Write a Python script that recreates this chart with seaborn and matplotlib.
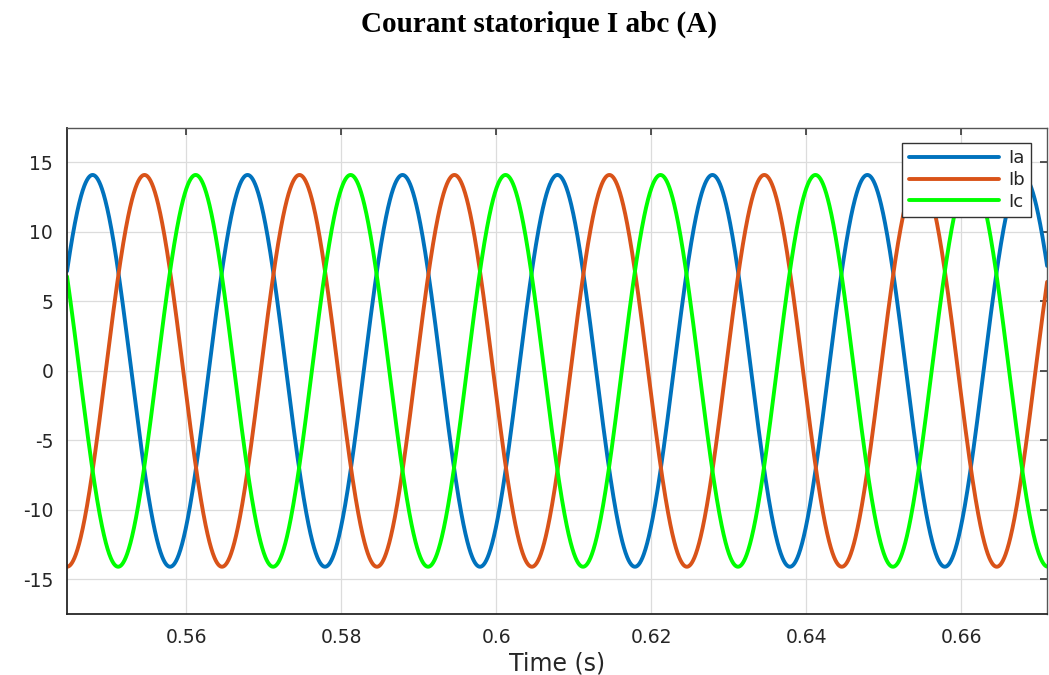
import numpy as np
import pandas as pd
import seaborn as sns
import matplotlib
matplotlib.use("Agg")
import matplotlib.pyplot as plt
from matplotlib.ticker import FormatStrFormatter, MultipleLocator

# valeurs
phases = ["Ia", "Ib", "Ic"]
peak_time = [0.5479, 0.5546, 0.5612]   # instant d'un maximum de chaque courant (s)
amplitude = [14.1, 14.1, 14.1]          # crete (A)
freq_hz = 50
t_range = [0.5446, 0.6711]
colors = ["#0072BD", "#D95319", "#00FF00"]

t = np.linspace(t_range[0], t_range[1], 3000)
rows = []
for name, tp, a in zip(phases, peak_time, amplitude):
    rows.append(pd.DataFrame({"t": t, "I": a * np.cos(2 * np.pi * freq_hz * (t - tp)), "phase": name}))
df = pd.concat(rows, ignore_index=True)

sns.set_theme(style="whitegrid")
plt.rcParams["font.family"] = ["DejaVu Sans"]
plt.rcParams["axes.unicode_minus"] = False

fig = plt.figure(figsize=(10.49, 6.75), dpi=100)
ax = fig.add_axes([0.0639, 0.0904, 0.9343, 0.7204])

sns.lineplot(data=df, x="t", y="I", hue="phase", palette=colors, linewidth=2.8,
             estimator=None, sort=False, ax=ax)

ax.set_xlim(t_range)
ax.set_ylim(-17.5, 17.5)
ax.xaxis.set_major_locator(MultipleLocator(0.02))
ax.xaxis.set_major_formatter(FormatStrFormatter("%g"))
ax.yaxis.set_major_locator(MultipleLocator(5))
ax.grid(True, color="#dcdcdc", linewidth=0.9)
ax.set_facecolor("white")

ax.tick_params(direction="in", length=5, width=1.1, top=True, right=True,
               labelsize=13.5, labelcolor="#262626", color="#262626")
ax.tick_params(axis="x", pad=10)
ax.tick_params(axis="y", pad=10)
for side in ["left", "bottom"]:
    ax.spines[side].set_color("#262626")
    ax.spines[side].set_linewidth(1.3)
for side in ["top", "right"]:
    ax.spines[side].set_color("#555555")
    ax.spines[side].set_linewidth(1.0)

ax.set_xlabel("Time (s)", fontsize=17, color="#262626", labelpad=3.5)
ax.set_ylabel("")

leg = ax.legend(loc="upper right", bbox_to_anchor=(0.9837, 0.9686), borderaxespad=0,
                fontsize=13, handlelength=5.0, handletextpad=0.5, frameon=True, fancybox=False,
                framealpha=1, edgecolor="#333333", borderpad=0.35, labelspacing=0.2)
leg.get_frame().set_linewidth(1.0)
for line in leg.get_lines():
    line.set_linewidth(2.8)

fig.text(0.514, 0.953, "Courant statorique I abc (A)", ha="center", va="baseline",
         fontsize=21, fontweight="bold", color="black",
         family=["Liberation Serif", "DejaVu Serif"])

fig.savefig("out.png", dpi=100)
